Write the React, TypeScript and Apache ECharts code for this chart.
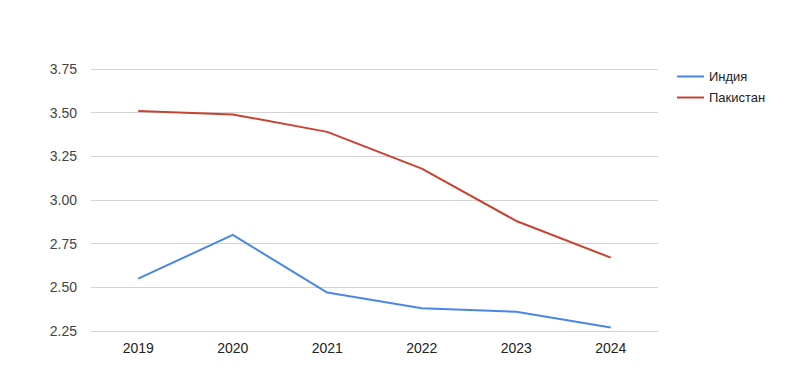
import React, { useEffect, useRef } from "react";
import * as echarts from "echarts";

const years = ["2019", "2020", "2021", "2022", "2023", "2024"];
const india = [2.55, 2.8, 2.47, 2.38, 2.36, 2.27];
const pakistan = [3.51, 3.49, 3.39, 3.18, 2.88, 2.67];
const seriesNames = ["Индия", "Пакистан"];

export default function App() {
  const ref = useRef<HTMLDivElement>(null);
  useEffect(() => {
    if (!ref.current) return;
    const chart = echarts.init(ref.current, null, { renderer: "svg" });
    chart.setOption({
      animation: false,
      backgroundColor: "#ffffff",
      textStyle: { fontFamily: "Liberation Sans, Arial, sans-serif" },
      grid: { left: 91, right: 142, top: 69, bottom: 58 },
      legend: {
        orient: "vertical",
        left: 672,
        top: 65,
        icon: "rect",
        itemWidth: 27,
        itemHeight: 2,
        itemGap: 8,
        textStyle: { fontSize: 13, color: "#222222", padding: [0, 0, 0, 0] },
        data: seriesNames,
      },
      xAxis: {
        type: "category",
        data: years,
        boundaryGap: true,
        axisLine: { show: false },
        axisTick: { show: false },
        axisLabel: { fontSize: 14, color: "#222222", margin: 10 },
      },
      yAxis: {
        type: "value",
        min: 2.25,
        max: 3.75,
        interval: 0.25,
        axisLine: { show: false },
        axisTick: { show: false },
        axisLabel: {
          fontSize: 14,
          color: "#444444",
          margin: 14,
          formatter: (v: number) => v.toFixed(2),
        },
        splitLine: { lineStyle: { color: "#d3d3d3", width: 1 } },
      },
      series: [
        {
          name: seriesNames[0],
          type: "line",
          data: india,
          symbol: "none",
          lineStyle: { color: "#4a86e8", width: 2 },
          itemStyle: { color: "#4a86e8" },
        },
        {
          name: seriesNames[1],
          type: "line",
          data: pakistan,
          symbol: "none",
          lineStyle: { color: "#c8432f", width: 2 },
          itemStyle: { color: "#c8432f" },
        },
      ],
    });
    return () => chart.dispose();
  }, []);
  return (
    <div
      ref={ref}
      style={{ position: "fixed", left: 0, top: 0, width: 800, height: 389 }}
    />
  );
}
